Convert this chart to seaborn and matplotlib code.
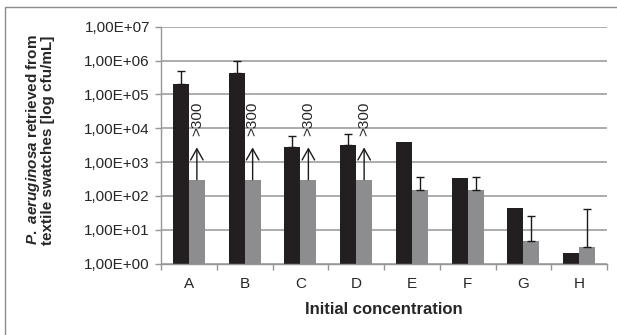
import matplotlib
matplotlib.use("Agg")
import matplotlib.pyplot as plt
import matplotlib.ticker as mticker
from matplotlib.patches import Rectangle
import numpy as np
import pandas as pd
import seaborn as sns

# --- data -------------------------------------------------------------
categories = ["A", "B", "C", "D", "E", "F", "G", "H"]
series_names = ["dark", "light"]
dark_values = [2.0e5, 4.2e5, 2.7e3, 3.1e3, 3.9e3, 3.4e2, 45, 2.0]
dark_err_up = [2.9e5, 5.8e5, 3.1e3, 3.8e3, 0, 0, 0, 0]
light_values = [300, 300, 300, 300, 150, 150, 4.6, 3.1]
light_err_up = [0, 0, 0, 0, 223, 223, 21, 38]
above_limit = [True, True, True, True, False, False, False, False]
limit_label = ">300"
ytick_values = [1e0, 1e1, 1e2, 1e3, 1e4, 1e5, 1e6, 1e7]
ytick_labels = ["1,00E+00", "1,00E+01", "1,00E+02", "1,00E+03",
                "1,00E+04", "1,00E+05", "1,00E+06", "1,00E+07"]

df = pd.DataFrame({
    "Initial concentration": categories * 2,
    "series": [series_names[0]] * len(categories) + [series_names[1]] * len(categories),
    "cfu": dark_values + light_values,
})

# --- style -------------------------------------------------------------
sns.set_style("white")
plt.rcParams["font.family"] = ["Liberation Sans", "DejaVu Sans"]
plt.rcParams["mathtext.fontset"] = "custom"
plt.rcParams["mathtext.it"] = "Liberation Sans:italic:bold"
plt.rcParams["mathtext.rm"] = "Liberation Sans:bold"

DARK = "#231f20"
LIGHT = "#8d8d8f"
GRID = "#969696"
TEXT = "#262626"

W, H = 617, 335
fig = plt.figure(figsize=(W / 100, H / 100), dpi=100)
ax = fig.add_axes([161 / W, 1 - 263.5 / H, (607 - 161) / W, (263.5 - 26.7) / H])

sns.barplot(data=df, x="Initial concentration", y="cfu", hue="series",
            palette=[DARK, LIGHT], width=0.574, gap=0, saturation=1,
            errorbar=None, legend=False, ax=ax, zorder=2, linewidth=0)
ax.set_yscale("log")
ax.set_ylim(1, 1e7)
ax.set_xlim(-0.5, len(categories) - 0.5)

# upward-only error bars drawn at the bar centres
for container, vals, errs in zip(ax.containers, [dark_values, light_values],
                                 [dark_err_up, light_err_up]):
    for patch, v, e in zip(container.patches, vals, errs):
        if e > 0:
            xc = patch.get_x() + patch.get_width() / 2
            ax.errorbar(xc, v, yerr=[[0], [e]], fmt="none", ecolor="#1a1a1a",
                        elinewidth=1.0, capsize=2.6, capthick=1.0, zorder=3)

# arrows and ">300" labels for counts above the counting limit
light_bars = ax.containers[1].patches
for patch, v, flag in zip(light_bars, light_values, above_limit):
    if flag:
        xc = patch.get_x() + patch.get_width() / 2
        ax.annotate("", xy=(xc, 2700), xytext=(xc, v),
                    arrowprops=dict(arrowstyle="->,head_length=0.8,head_width=0.45",
                                    color="#1a1a1a", lw=1.0, mutation_scale=10,
                                    shrinkA=0, shrinkB=0), zorder=4)
        ax.text(xc, 6.0e3, limit_label, rotation=90, ha="center", va="bottom",
                fontsize=11, color=TEXT)

# axes cosmetics
ax.yaxis.set_major_locator(mticker.FixedLocator(ytick_values))
ax.yaxis.set_major_formatter(mticker.FixedFormatter(ytick_labels))
ax.yaxis.set_minor_locator(mticker.NullLocator())
ax.grid(axis="y", which="major", color=GRID, linewidth=1.1, zorder=0)
ax.set_axisbelow(True)
for side in ["top", "right"]:
    ax.spines[side].set_visible(False)
for side in ["left", "bottom"]:
    ax.spines[side].set_color(GRID)
    ax.spines[side].set_linewidth(1.0)

ax.tick_params(axis="y", which="major", direction="out", length=4.5, width=1.0,
               color=GRID, pad=3.5, labelsize=11, labelcolor=TEXT, left=True)
ax.xaxis.set_minor_locator(mticker.FixedLocator(np.arange(-0.5, len(categories), 1.0)))
ax.tick_params(axis="x", which="major", length=0, pad=10, labelsize=11, labelcolor=TEXT)
ax.tick_params(axis="x", which="minor", direction="out", length=4, width=1.0,
               color=GRID, bottom=True)

ax.set_xlabel("Initial concentration", fontsize=12, fontweight="bold",
              color=TEXT, labelpad=7.5)
ax.set_ylabel("")

fig.text(33 / W, 1 - 140 / H, r"$\it{P.\ aeruginosa}$ retrieved from",
         rotation=90, ha="center", va="center", fontsize=11,
         fontweight="bold", color=TEXT)
fig.text(48 / W, 1 - 140 / H, "textile swatches [log cfu/mL]",
         rotation=90, ha="center", va="center", fontsize=11,
         fontweight="bold", color=TEXT)

# chart frame
fig.patches.append(Rectangle((5 / W, -0.1), 1.2, 1 - 7 / H + 0.1,
                             transform=fig.transFigure, fill=False,
                             edgecolor="#8c8c8c", linewidth=1.0))

fig.savefig("out.png", dpi=100)
